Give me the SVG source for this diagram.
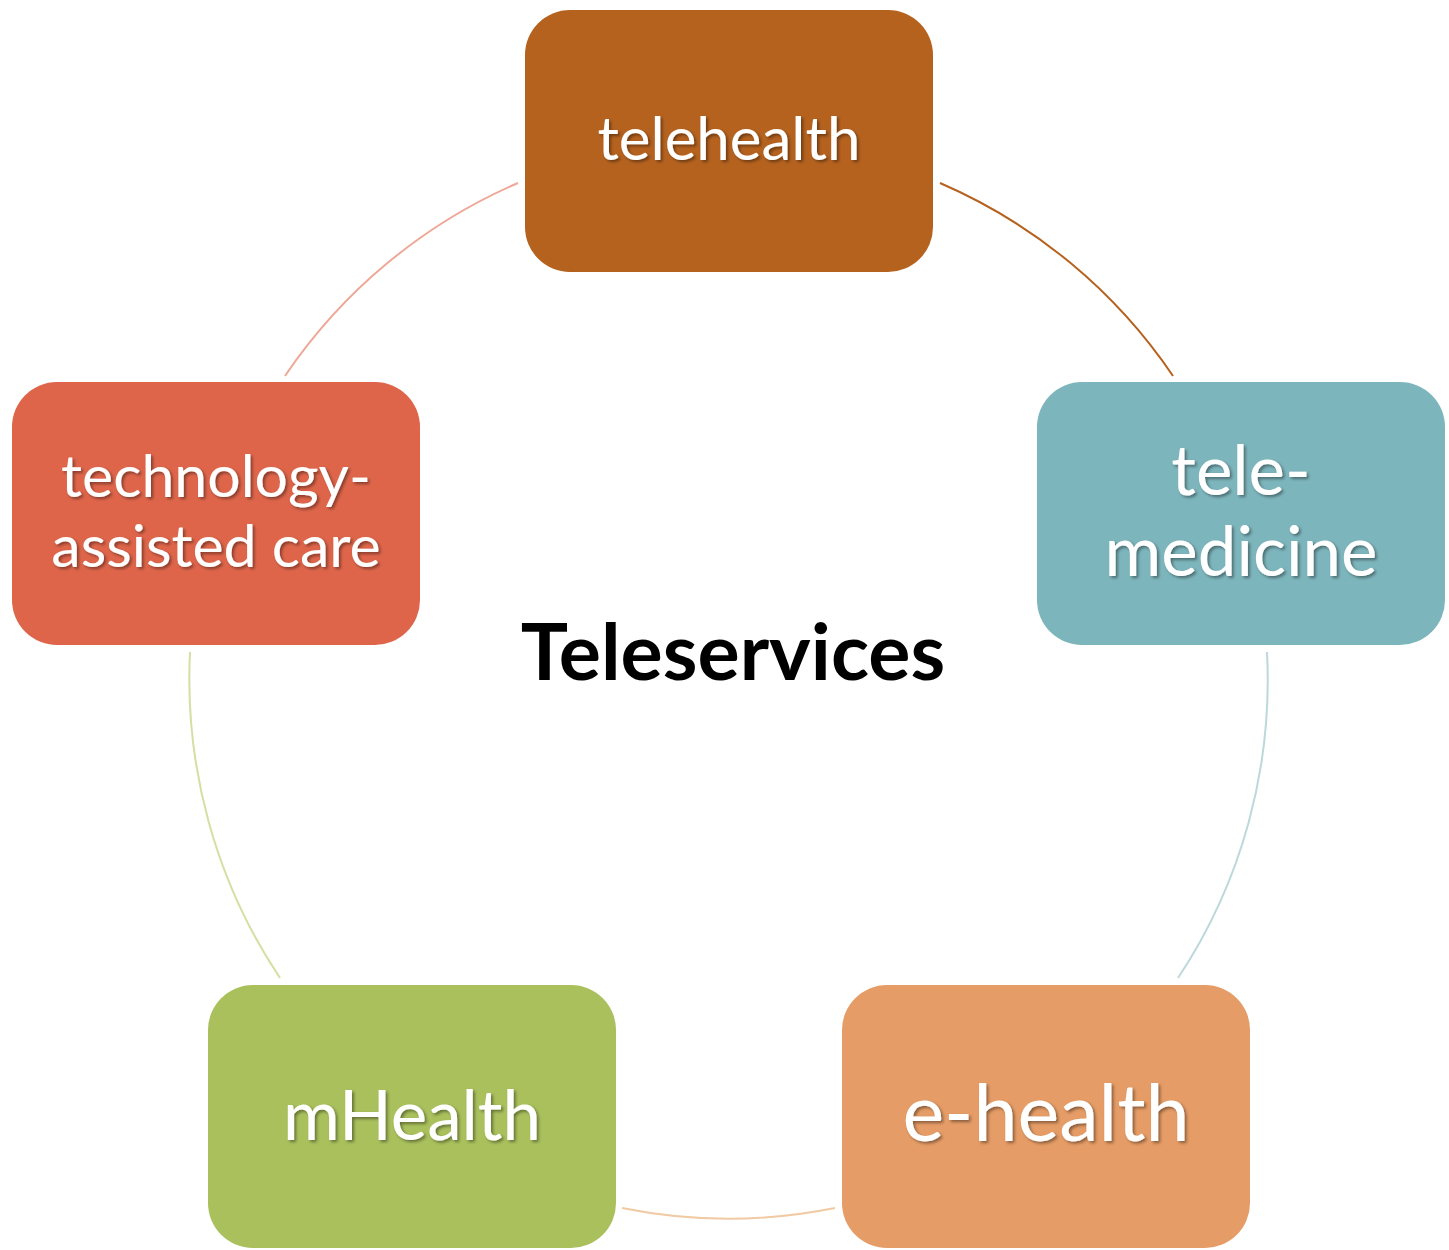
<svg xmlns="http://www.w3.org/2000/svg" width="1449" height="1250" viewBox="0 0 1449 1250">
<defs>
<filter id="ts" x="-10%" y="-10%" width="120%" height="130%">
<feDropShadow dx="2" dy="2" stdDeviation="1.5" flood-color="#000" flood-opacity="0.4"/>
</filter>
<style>
.box{stroke:none}
.lbl{font-family:Lato,"Open Sans","Liberation Sans",sans-serif;fill:#fff;text-anchor:middle;filter:url(#ts)}
.arc{fill:none;stroke-width:2}
.title{font-family:Lato,"Open Sans","Liberation Sans",sans-serif;font-weight:bold;font-size:79px;fill:#000;text-anchor:middle}
</style>
</defs>
<rect width="1449" height="1250" fill="#fff"/>
<g id="connectors">
<path class="arc" d="M 940 183 A 539 539 0 0 1 1173 376" stroke="#B5621F"/>
<path class="arc" d="M 1267 652 A 539 539 0 0 1 1178 978" stroke="#BDD8DC"/>
<path class="arc" d="M 835 1208 A 539 539 0 0 1 622 1208" stroke="#F1C9A3"/>
<path class="arc" d="M 280 978 A 539 539 0 0 1 190 652" stroke="#D4DFA3"/>
<path class="arc" d="M 285 376 A 539 539 0 0 1 518 183" stroke="#EEA898"/>
</g>
<g id="center">
<text class="title" x="733" y="680">Teleservices</text>
</g>
<g id="telehealth">
<rect class="box" x="525" y="10" width="408" height="262" rx="45" fill="#B5621F"/>
<text class="lbl" x="729" y="160" font-size="60">telehealth</text>
</g>
<g id="telemedicine">
<rect class="box" x="1037" y="382" width="408" height="263" rx="45" fill="#7DB5BC"/>
<text class="lbl" x="1241" y="495" font-size="69">tele-</text>
<text class="lbl" x="1241" y="576" font-size="69">medicine</text>
</g>
<g id="ehealth">
<rect class="box" x="842" y="985" width="408" height="263" rx="45" fill="#E59C66"/>
<text class="lbl" x="1046" y="1141" font-size="79">e-health</text>
</g>
<g id="mhealth">
<rect class="box" x="208" y="985" width="408" height="263" rx="45" fill="#A9C05C"/>
<text class="lbl" x="412" y="1140" font-size="69">mHealth</text>
</g>
<g id="techcare">
<rect class="box" x="12" y="382" width="408" height="263" rx="45" fill="#DE654A"/>
<text class="lbl" x="216" y="497" font-size="59">technology-</text>
<text class="lbl" x="216" y="567" font-size="59">assisted care</text>
</g>
</svg>
